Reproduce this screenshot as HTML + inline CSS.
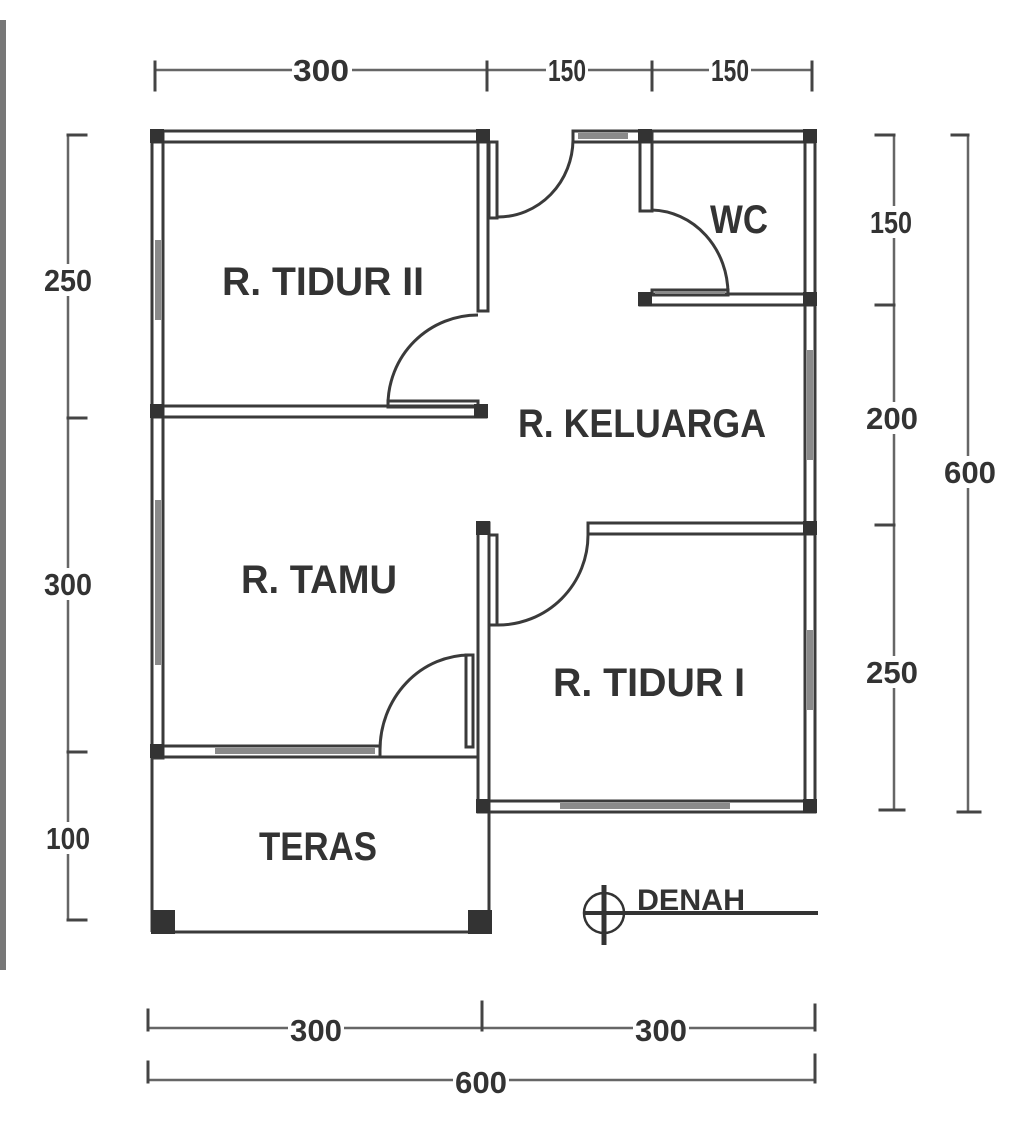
<!DOCTYPE html>
<html><head><meta charset="utf-8"><style>
html,body{margin:0;padding:0;background:#fff;}
svg{display:block;}
text{font-family:"Liberation Sans",sans-serif;font-weight:bold;fill:#333;}
</style></head><body>
<svg width="1024" height="1123" viewBox="0 0 1024 1123" xmlns="http://www.w3.org/2000/svg">
<rect x="0" y="20" width="6" height="950" fill="#777"/>
<g stroke="#444" stroke-width="3" fill="none" stroke-linecap="square">
<line x1="155" y1="70" x2="812" y2="70" stroke-width="2.5" stroke="#666"/>
<line x1="155" y1="62" x2="155" y2="90"/><line x1="487" y1="62" x2="487" y2="90"/>
<line x1="652" y1="62" x2="652" y2="90"/><line x1="812" y1="62" x2="812" y2="90"/>
<line x1="68" y1="135" x2="68" y2="920" stroke-width="2.5" stroke="#666"/>
<line x1="68" y1="135" x2="86" y2="135"/><line x1="68" y1="418" x2="86" y2="418"/>
<line x1="68" y1="752" x2="86" y2="752"/><line x1="68" y1="920" x2="86" y2="920"/>
<line x1="894" y1="135" x2="894" y2="810" stroke-width="2.5" stroke="#666"/>
<line x1="876" y1="135" x2="894" y2="135"/><line x1="876" y1="305" x2="894" y2="305"/>
<line x1="876" y1="525" x2="894" y2="525"/><line x1="880" y1="810" x2="904" y2="810"/>
<line x1="968" y1="135" x2="968" y2="812" stroke-width="2.5" stroke="#666"/>
<line x1="952" y1="135" x2="968" y2="135"/><line x1="958" y1="812" x2="980" y2="812"/>
<line x1="148" y1="1028" x2="815" y2="1028" stroke-width="2.5" stroke="#666"/>
<line x1="148" y1="1010" x2="148" y2="1030"/><line x1="482" y1="1002" x2="482" y2="1030"/><line x1="815" y1="1005" x2="815" y2="1030"/>
<line x1="148" y1="1080" x2="815" y2="1080" stroke-width="2.5" stroke="#666"/>
<line x1="148" y1="1062" x2="148" y2="1082"/><line x1="815" y1="1055" x2="815" y2="1082"/>
</g>
<g fill="#fff">
<rect x="292" y="56" width="60" height="30"/><rect x="546" y="56" width="42" height="30"/><rect x="709" y="56" width="42" height="30"/>
<rect x="42" y="264" width="52" height="32"/><rect x="42" y="568" width="52" height="32"/><rect x="44" y="822" width="48" height="32"/>
<rect x="868" y="206" width="46" height="32"/><rect x="864" y="402" width="56" height="32"/><rect x="864" y="656" width="56" height="32"/>
<rect x="942" y="456" width="56" height="32"/>
<rect x="288" y="1013" width="56" height="32"/><rect x="633" y="1013" width="56" height="32"/><rect x="453" y="1064" width="56" height="32"/>
</g>
<g font-size="31" text-anchor="middle">
<text x="321" y="81" textLength="56" lengthAdjust="spacingAndGlyphs">300</text>
<text x="567" y="81" textLength="38" lengthAdjust="spacingAndGlyphs">150</text>
<text x="730" y="81" textLength="38" lengthAdjust="spacingAndGlyphs">150</text>
<text x="68" y="291" textLength="48" lengthAdjust="spacingAndGlyphs">250</text>
<text x="68" y="595" textLength="48" lengthAdjust="spacingAndGlyphs">300</text>
<text x="68" y="849" textLength="44" lengthAdjust="spacingAndGlyphs">100</text>
<text x="891" y="233" textLength="42" lengthAdjust="spacingAndGlyphs">150</text>
<text x="892" y="429" textLength="52" lengthAdjust="spacingAndGlyphs">200</text>
<text x="892" y="683" textLength="52" lengthAdjust="spacingAndGlyphs">250</text>
<text x="970" y="483" textLength="52" lengthAdjust="spacingAndGlyphs">600</text>
<text x="316" y="1041" textLength="52" lengthAdjust="spacingAndGlyphs">300</text>
<text x="661" y="1041" textLength="52" lengthAdjust="spacingAndGlyphs">300</text>
<text x="481" y="1093" textLength="52" lengthAdjust="spacingAndGlyphs">600</text>
</g>
<g stroke="#3a3a3a" stroke-width="3" fill="none">
<rect x="152" y="131" width="336" height="11"/>
<rect x="573" y="131" width="242" height="11"/>
<rect x="152" y="131" width="11" height="627"/>
<rect x="478" y="131" width="10" height="180"/>
<rect x="152" y="406" width="334" height="11"/>
<rect x="640" y="131" width="12" height="80"/>
<rect x="640" y="294" width="175" height="11"/>
<rect x="805" y="131" width="10" height="681"/>
<rect x="588" y="523" width="227" height="11"/>
<rect x="478" y="523" width="11" height="289"/>
<rect x="478" y="801" width="337" height="11"/>
<rect x="152" y="746" width="228" height="11"/>
<line x1="380" y1="757" x2="478" y2="757"/>
<line x1="152" y1="757" x2="152" y2="932"/>
<line x1="152" y1="932" x2="489" y2="932"/>
<line x1="489" y1="812" x2="489" y2="932"/>
<path d="M388 405 A90 90 0 0 1 478 315"/>
<path d="M498 217 A75 78 0 0 0 573 140"/>
<path d="M652 210 A78 84 0 0 1 728 294"/>
<path d="M498 625 A90 90 0 0 0 588 535"/>
<path d="M380 750 A90 95 0 0 1 470 655"/>
<rect x="489" y="142" width="8" height="76"/>
<rect x="652" y="290" width="76" height="5"/>
<rect x="388" y="401" width="90" height="6"/>
<rect x="489" y="535" width="8" height="90"/>
<rect x="466" y="655" width="7" height="92"/>
</g>
<g fill="#8a8a8a">
<rect x="155" y="240" width="6" height="80"/>
<rect x="155" y="500" width="6" height="165"/>
<rect x="807" y="350" width="6" height="110"/>
<rect x="807" y="630" width="6" height="80"/>
<rect x="560" y="803" width="170" height="6"/>
<rect x="215" y="748" width="160" height="6"/>
<rect x="578" y="133" width="50" height="6"/>
<rect x="655" y="291" width="70" height="3"/>
</g>
<g fill="#333">
<rect x="150" y="129" width="14" height="14"/><rect x="476" y="129" width="14" height="14"/>
<rect x="803" y="129" width="14" height="14"/><rect x="638" y="129" width="14" height="14"/>
<rect x="150" y="404" width="14" height="14"/><rect x="474" y="404" width="14" height="14"/>
<rect x="638" y="292" width="14" height="14"/><rect x="803" y="292" width="14" height="14"/>
<rect x="803" y="521" width="14" height="14"/><rect x="476" y="521" width="14" height="14"/>
<rect x="476" y="799" width="14" height="14"/><rect x="803" y="799" width="14" height="14"/>
<rect x="150" y="744" width="14" height="14"/>
<rect x="151" y="910" width="24" height="24"/><rect x="468" y="910" width="24" height="24"/>
</g>
<g font-size="40">
<text x="222" y="295" textLength="202" lengthAdjust="spacingAndGlyphs">R. TIDUR II</text>
<text x="518" y="437" textLength="248" lengthAdjust="spacingAndGlyphs">R. KELUARGA</text>
<text x="710" y="233" textLength="58" lengthAdjust="spacingAndGlyphs">WC</text>
<text x="241" y="593" textLength="156" lengthAdjust="spacingAndGlyphs">R. TAMU</text>
<text x="553" y="696" textLength="192" lengthAdjust="spacingAndGlyphs">R. TIDUR I</text>
<text x="259" y="860" textLength="118" lengthAdjust="spacingAndGlyphs">TERAS</text>
<text x="637" y="910" font-size="30" textLength="108" lengthAdjust="spacingAndGlyphs">DENAH</text>
</g>
<g stroke="#333" fill="none">
<circle cx="604" cy="913" r="20" stroke-width="2.5"/>
<line x1="583" y1="913" x2="818" y2="913" stroke-width="4"/>
<line x1="604" y1="885" x2="604" y2="945" stroke-width="5"/>
</g>
</svg>
</body></html>
